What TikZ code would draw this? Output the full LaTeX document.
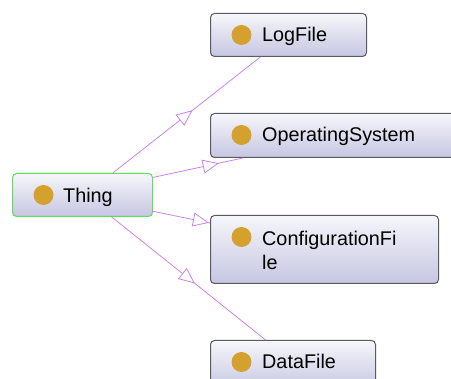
\documentclass[tikz,border=0pt]{standalone}
\usepackage{fontspec}
\setmainfont{Liberation Sans}
\usetikzlibrary{arrows.meta,decorations.markings}
\definecolor{boxtop}{RGB}{246,246,251}
\definecolor{boxbottom}{RGB}{198,198,226}
\definecolor{boxline}{RGB}{90,90,96}
\definecolor{thingline}{RGB}{96,222,90}
\definecolor{dotgold}{RGB}{212,161,46}
\definecolor{isaline}{RGB}{204,130,234}

\begin{document}
\begin{tikzpicture}
        [x=1pt, y=-1pt,
         classbox/.style={draw=boxline, line width=1pt, rounded corners=4pt,
           top color=boxtop, bottom color=boxbottom, anchor=north west, inner sep=0pt},
         classdot/.style={circle, fill=dotgold, minimum size=20pt, inner sep=0pt},
         classname/.style={anchor=base west, inner sep=0pt, text width=170pt, align=left,
           font=\fontsize{19.8}{24}\selectfont},
         isa/.style={draw=isaline, line width=0.8pt, postaction={decorate},
           decoration={markings, mark=at position #1 with
             {\arrow{Triangle[length=16pt, width=14pt, fill=white, line width=0.8pt]}}}}]
        \useasboundingbox (0,0) rectangle (451,379);
        \clip (0,0) rectangle (451,379);

        \node[classbox, draw=thingline, minimum width=140pt, minimum height=43pt] (thing) at (12,173) {};
        \node[classbox, minimum width=156pt, minimum height=43pt] (logfile) at (210,13) {};
        \node[classbox, minimum width=260pt, minimum height=44pt] (os) at (210,113) {};
        \node[classbox, minimum width=228pt, minimum height=68pt] (config) at (210,215) {};
        \node[classbox, minimum width=165pt, minimum height=50pt] (datafile) at (210,340) {};

        \foreach \n in {thing,logfile,os,config,datafile}
        \node[classdot] (\n-dot) at ([xshift=31.5pt,yshift=-22pt]\n.north west) {};

        \node[classname] (thing-name) at ([xshift=51pt,yshift=-29.5pt]thing.north west) {Thing};
        \node[classname] (logfile-name) at ([xshift=52pt,yshift=-29pt]logfile.north west) {LogFile};
        \node[classname] (os-name) at ([xshift=52pt,yshift=-29pt]os.north west) {OperatingSystem};
        \node[classname] (config-name) at ([xshift=52pt,yshift=-30.5pt]config.north west) {ConfigurationFi\\le};
        \node[classname] (datafile-name) at ([xshift=52pt,yshift=-29pt]datafile.north west) {DataFile};

        \foreach \from/\to/\pos in {thing.36.6/logfile.-142.5/0.54, thing.14/os.-167.8/0.73,
                thing.-13.3/config.167.2/0.98, thing.-37.5/datafile.137.7/0.54}
        \draw[isa=\pos] (\from) -- (\to);
\end{tikzpicture}
\end{document}
